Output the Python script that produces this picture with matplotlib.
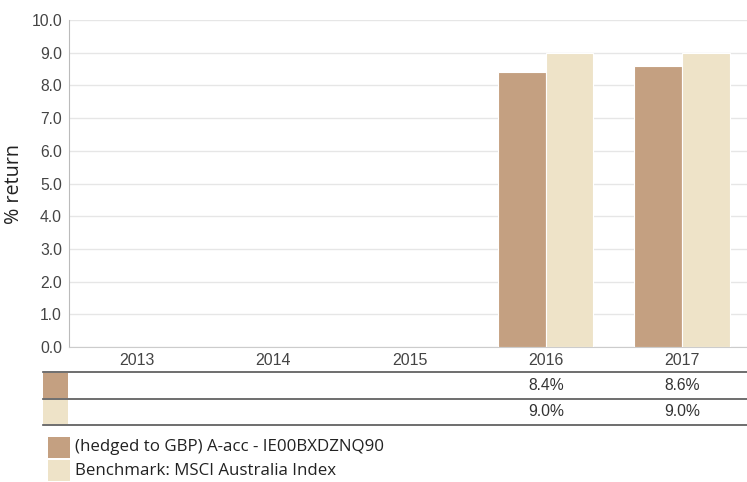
import matplotlib.pyplot as plt
from matplotlib.transforms import blended_transform_factory
from matplotlib.patches import Rectangle

years = ['2013', '2014', '2015', '2016', '2017']
fund = [None, None, None, 8.4, 8.6]
bench = [None, None, None, 9.0, 9.0]
fund_name = '(hedged to GBP) A-acc - IE00BXDZNQ90'
bench_name = 'Benchmark: MSCI Australia Index'
yticks = [0, 1, 2, 3, 4, 5, 6, 7, 8, 9, 10]

brown = '#C4A081'
cream = '#EEE3C8'
W, H = 747, 482

fig = plt.figure(figsize=(W / 100, H / 100), dpi=100)
ax = fig.add_axes([69 / W, 1 - 347 / H, (750 - 69) / W, (347 - 20) / H])

bw = 0.35
for i, (f, b) in enumerate(zip(fund, bench)):
    if f is not None:
        ax.bar(i - bw / 2, f, bw, color=brown, edgecolor='white', linewidth=0.8, zorder=3)
    if b is not None:
        ax.bar(i + bw / 2, b, bw, color=cream, edgecolor='white', linewidth=0.8, zorder=3)

ax.set_xlim(-0.5, len(years) - 0.5)
ax.set_ylim(0, 10)
ax.set_yticks(yticks)
ax.set_yticklabels(['%.1f' % v for v in yticks], fontsize=11.3, color='#444444',
                   family='Liberation Sans')
ax.set_xticks(range(len(years)))
ax.set_xticklabels(years, fontsize=11.5, color='#444444', family='Liberation Sans')
ax.tick_params(length=0, pad=5)
ax.tick_params(axis='x', pad=4)
ax.grid(axis='y', color='#e6e6e6', linewidth=1, zorder=0)
for s in ['top', 'right']:
    ax.spines[s].set_visible(False)
ax.spines['left'].set_color('#bbbbbb')
ax.spines['bottom'].set_color('#cccccc')
ax.set_ylabel('% return', fontsize=14.2, family='Open Sans', color='#222222', labelpad=5)

# data table under the chart
tr = blended_transform_factory(ax.transData, fig.transFigure)
for yp in [372, 399, 425]:
    fig.add_artist(plt.Line2D([43 / W, 747 / W], [1 - yp / H] * 2, color='#555555', linewidth=1.2))
fig.add_artist(Rectangle((43 / W, 1 - 398 / H), 25 / W, 25 / H, transform=fig.transFigure,
                         facecolor=brown, edgecolor='none'))
fig.add_artist(Rectangle((43 / W, 1 - 424 / H), 25 / W, 24 / H, transform=fig.transFigure,
                         facecolor=cream, edgecolor='none'))
for i, (f, b) in enumerate(zip(fund, bench)):
    if f is not None:
        ax.text(i, 1 - 385 / H, '%.1f%%' % f, transform=tr, ha='center', va='center',
                fontsize=11.3, color='#333333', family='Liberation Sans', clip_on=False)
    if b is not None:
        ax.text(i, 1 - 411 / H, '%.1f%%' % b, transform=tr, ha='center', va='center',
                fontsize=11.3, color='#333333', family='Liberation Sans', clip_on=False)

# legend
fig.add_artist(Rectangle((48 / W, 1 - 458 / H), 22 / W, 21 / H, transform=fig.transFigure,
                         facecolor=brown, edgecolor='none'))
fig.add_artist(Rectangle((48 / W, 1 - 481 / H), 22 / W, 21 / H, transform=fig.transFigure,
                         facecolor=cream, edgecolor='none'))
fig.text(75 / W, 1 - 447 / H, fund_name, fontsize=12.2, family='Open Sans', color='#222222',
         va='center')
fig.text(75 / W, 1 - 471 / H, bench_name, fontsize=12.2, family='Open Sans', color='#222222',
         va='center')

fig.savefig('out.png', dpi=100)
